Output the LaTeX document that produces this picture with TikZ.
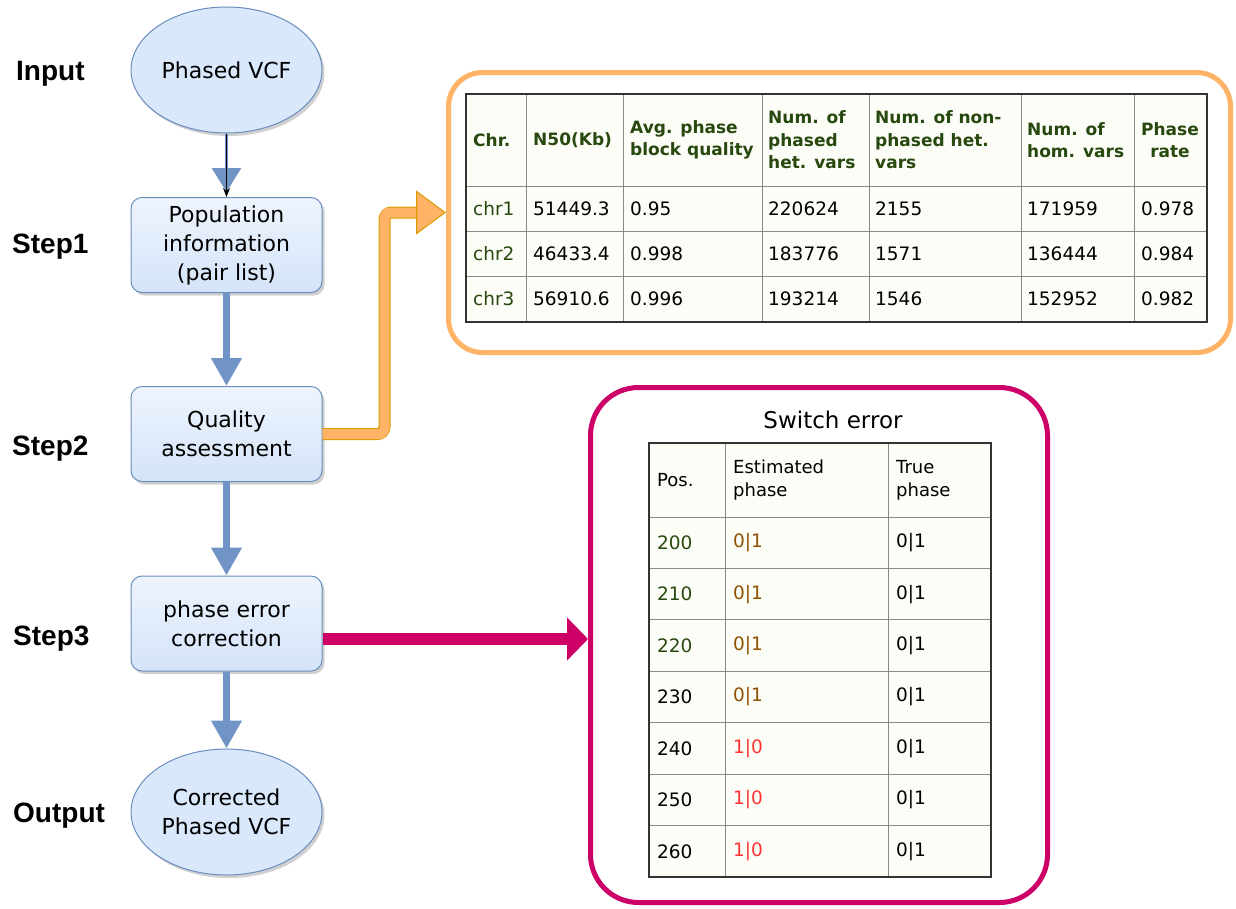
\documentclass[tikz,border=0pt]{standalone}
\usepackage{fontspec}
\usepackage{tikz}
\usetikzlibrary{arrows.meta,shapes.geometric,shadows}
\setmainfont{DejaVu Sans}
\newfontfamily\steplabelfont{Liberation Sans}
\definecolor{flowblue}{HTML}{DAE8FC}
\definecolor{flowtop}{HTML}{EEF4FD}
\definecolor{flowedge}{HTML}{6C8EBF}
\definecolor{arrowblue}{HTML}{7094C5}
\definecolor{statsorange}{HTML}{FFB366}
\definecolor{statsorangedark}{HTML}{D79B00}
\definecolor{switchpink}{HTML}{CC0066}
\definecolor{cellcream}{HTML}{FDFDF7}
\definecolor{gridgray}{HTML}{8A8A8A}
\definecolor{gridouter}{HTML}{333333}
\definecolor{chrgreen}{HTML}{27480F}
\definecolor{phasebrown}{HTML}{8F4F00}
\definecolor{phasered}{HTML}{FF3333}
\newcommand{\steptext}{\steplabelfont\bfseries\fontsize{28}{32}\selectfont}
\newcommand{\boxtext}{\fontsize{22}{29}\selectfont}
\newcommand{\headtext}{\bfseries\fontsize{17}{22.5}\selectfont}
\newcommand{\celltext}{\fontsize{18.5}{22.5}\selectfont}
\newcommand{\swhead}{\fontsize{18}{23}\selectfont}

\begin{document}
\begin{tikzpicture}[x=1pt,y=-1pt,
  steplabel/.style={anchor=base west,inner sep=0,font=\steptext},
  vcfnode/.style={ellipse,draw=flowedge,fill=flowblue,line width=1pt,minimum width=191pt,minimum height=126pt,inner sep=0,align=center,font=\boxtext,drop shadow={shadow xshift=2.5pt,shadow yshift=-3pt,opacity=0.3,fill=black!60}},
  stepbox/.style={rectangle,rounded corners=11pt,draw=flowedge,top color=flowtop,bottom color=flowblue!95!flowedge,line width=1pt,minimum width=191pt,minimum height=95pt,align=center,font=\boxtext,drop shadow={shadow xshift=2.5pt,shadow yshift=-3pt,opacity=0.3,fill=black!60}},
  bluearrow/.style={draw=arrowblue,line width=7.5pt,-{Triangle[length=28pt,width=29pt]}},
  tabcell/.style={anchor=west,inner sep=0,font=\celltext},
  tabhead/.style={anchor=west,inner sep=0,align=left,font=\headtext,text=chrgreen}]
\fill[white] (0,0) rectangle (1236,908);
\useasboundingbox (0,0) rectangle (1236,908);

\node[steplabel] (lblinput) at (16,80) {Input};
\node[steplabel] (lblstep1) at (12,253) {Step1};
\node[steplabel] (lblstep2) at (12,455) {Step2};
\node[steplabel] (lblstep3) at (13,645) {Step3};
\node[steplabel] (lbloutput) at (13,822) {Output};

\node[vcfnode] (vcfin) at (226.5,70) {Phased VCF};
\node[stepbox] (popinfo) at (226.5,245) {Population\\information\\(pair list)};
\node[stepbox] (quality) at (226.5,434) {Quality\\assessment};
\node[stepbox] (correct) at (226.5,623.5) {phase error\\correction};
\node[vcfnode] (vcfout) at (226.5,812) {Corrected\\Phased VCF};

\draw[draw=arrowblue,line width=3pt,shorten >=5pt,-{Triangle[length=24pt,width=29pt]}] (vcfin) -- (popinfo);
\draw[black,line width=1.2pt,-{Stealth[length=9pt,width=7pt]}] (vcfin) -- (popinfo);
\draw[bluearrow] (popinfo) -- (quality);
\draw[bluearrow] (quality) -- (correct);
\draw[bluearrow] (correct) -- (vcfout);

\node[draw=statsorange,line width=5pt,rounded corners=34pt,minimum width=782pt,minimum height=280pt] (statsbox) at (839.5,212.5) {};
\node[draw=switchpink,line width=5pt,rounded corners=48pt,minimum width=457pt,minimum height=515pt] (switchbox) at (819,645) {};

\draw[statsorangedark,line width=12pt,rounded corners=7pt,shorten >=29pt] (quality.east) -- ++(62,0) |- (statsbox.west);
\draw[statsorange,line width=10pt,rounded corners=6pt,-{Triangle[length=30pt,width=44pt,color=statsorangedark,fill=statsorange,line width=1pt]}] (quality.east) -- ++(62,0) |- (statsbox.west);

\coordinate (pinkstart) at ([yshift=-15.5pt]correct.east);
\draw[switchpink,line width=12pt,-{Triangle[length=21pt,width=42pt]}] (pinkstart) -- (pinkstart -| switchbox.west);

\fill[cellcream] (466,94) rectangle (1207,322);
\foreach \gx in {526,623,762,869,1021,1134}
  \draw[gridgray,line width=1pt] (\gx,94) -- (\gx,322);
\foreach \gy in {186,231,276}
  \draw[gridgray,line width=1pt] (466,\gy) -- (1207,\gy);
\draw[gridouter,line width=1.5pt] (466,94) rectangle (1207,322);

\node[tabhead] (sth1) at (473,140) {Chr.};
\node[tabhead] (sth2) at (533,140) {N50(Kb)};
\node[tabhead] (sth3) at (630,140) {Avg. phase\\block quality};
\node[tabhead] (sth4) at (768,140) {Num. of\\phased\\het. vars};
\node[tabhead] (sth5) at (875,140) {Num. of non-\\phased het.\\vars};
\node[tabhead] (sth6) at (1027,140) {Num. of\\hom. vars};
\node[tabhead,anchor=center,align=center] (sth7) at (1170,140) {Phase\\rate};
\foreach \r/\ch/\nf/\aq/\ph/\np/\hom/\rate in {1/chr1/51449.3/0.95/220624/2155/171959/0.978,2/chr2/46433.4/0.998/183776/1571/136444/0.984,3/chr3/56910.6/0.996/193214/1546/152952/0.982}{
  \node[tabcell,text=chrgreen] (st\r-1) at (473,163.5+45*\r) {\ch};
  \node[tabcell] (st\r-2) at (533,163.5+45*\r) {\nf};
  \node[tabcell] (st\r-3) at (630,163.5+45*\r) {\aq};
  \node[tabcell] (st\r-4) at (768,163.5+45*\r) {\ph};
  \node[tabcell] (st\r-5) at (875,163.5+45*\r) {\np};
  \node[tabcell] (st\r-6) at (1027,163.5+45*\r) {\hom};
  \node[tabcell] (st\r-7) at (1141,163.5+45*\r) {\rate};
}

\node[font=\fontsize{23}{28}\selectfont] (swtitle) at (833,420) {Switch error};
\fill[cellcream] (649,443) rectangle (991,877);
\foreach \gx in {725,888}
  \draw[gridgray,line width=1pt] (\gx,443) -- (\gx,877);
\foreach \k in {0,...,6}
  \draw[gridgray,line width=1pt] (649,{517+51.43*\k}) -- (991,{517+51.43*\k});
\draw[gridouter,line width=1.5pt] (649,443) rectangle (991,877);

\node[tabcell,font=\swhead] (swh1) at (657,480) {Pos.};
\node[tabcell,font=\swhead,align=left] (swh2) at (733,480) {Estimated\\phase};
\node[tabcell,font=\swhead,align=left] (swh3) at (896,480) {True\\phase};
\foreach \r/\pos/\est/\pcol/\ecol in {1/200/0|1/chrgreen/phasebrown,2/210/0|1/chrgreen/phasebrown,3/220/0|1/chrgreen/phasebrown,4/230/0|1/black/phasebrown,5/240/1|0/black/phasered,6/250/1|0/black/phasered,7/260/1|0/black/phasered}{
  \node[tabcell,text=\pcol] (sw\r-1) at (657,{517+51.43*(\r-0.5)}) {\pos};
  \node[tabcell,text=\ecol] (sw\r-2) at (733,{517+51.43*(\r-0.5)}) {\est};
  \node[tabcell] (sw\r-3) at (896,{517+51.43*(\r-0.5)}) {0|1};
}
\end{tikzpicture}
\end{document}
